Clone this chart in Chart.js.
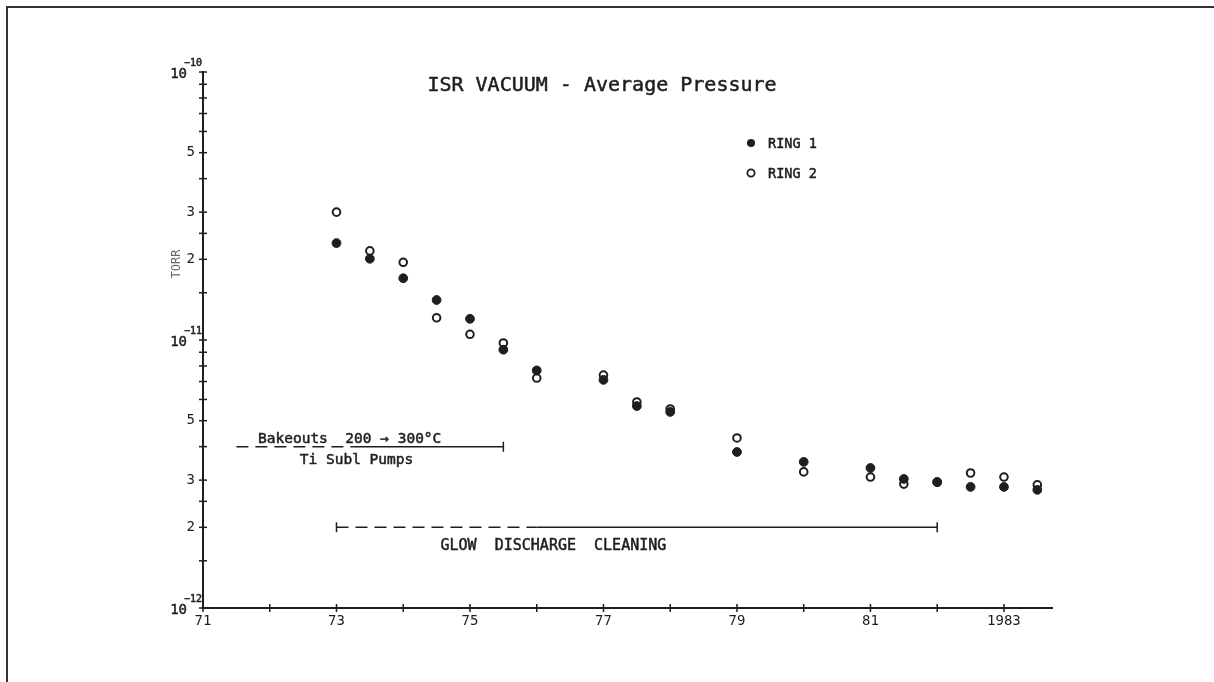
<!DOCTYPE html>
<html>
<head>
<meta charset="utf-8">
<script src="https://cdn.jsdelivr.net/npm/chart.js@4.4.0/dist/chart.umd.min.js"></script>
<style>
    html, body { margin: 0; padding: 0; background: #fff; overflow: hidden; }
    #frame { position: absolute; left: 6px; top: 6px; width: 1230px; height: 700px; border-left: 2px solid #333; border-top: 2px solid #333; }
    #wrap { position: absolute; left: 0; top: 0; width: 1214px; height: 682px; }
</style>
</head>
<body>
<div id="frame"></div>
<div id="wrap"><canvas id="isrChart"></canvas></div>
<script>
// years (19xx) of the measurements
const years = [73, 73.5, 74, 74.5, 75, 75.5, 76, 77, 77.5, 78, 79, 80, 81, 81.5, 82, 82.5, 83, 83.5];
// average pressure, torr
const ring1 = [2.30e-11, 2.01e-11, 1.70e-11, 1.41e-11, 1.20e-11, 9.2e-12, 7.7e-12, 7.1e-12, 5.67e-12, 5.39e-12,
               3.82e-12, 3.51e-12, 3.33e-12, 3.03e-12, 2.95e-12, 2.83e-12, 2.83e-12, 2.76e-12];
const ring2 = [3.0e-11, 2.15e-11, 1.95e-11, 1.21e-11, 1.05e-11, 9.75e-12, 7.21e-12, 7.40e-12, 5.87e-12, 5.53e-12,
               4.31e-12, 3.22e-12, 3.08e-12, 2.90e-12, 2.95e-12, 3.19e-12, 3.08e-12, 2.88e-12];

const xTicks = [71, 72, 73, 74, 75, 76, 77, 78, 79, 80, 81, 82, 83];
const xLabels = ['71', '', '73', '', '75', '', '77', '', '79', '', '81', '', '1983'];

const yTicks = [1e-12, 1.5e-12, 2e-12, 2.5e-12, 3e-12, 4e-12, 5e-12, 6e-12, 7e-12, 8e-12, 9e-12,
                1e-11, 1.5e-11, 2e-11, 2.5e-11, 3e-11, 4e-11, 5e-11, 6e-11, 7e-11, 8e-11, 9e-11, 1e-10];
const yLabels = ['', '', '2', '', '3', '', '5', '', '', '', '',
                 '', '', '2', '', '3', '', '5', '', '', '', '', ''];
const yPowers = [-12, -11, -10];

// annotation bars: [from, dashedUntil, to] in years, level in torr
const bakeoutSpan = [71.5, 73.25, 75.5];
const bakeoutLevel = 4e-12;
const glowSpan = [73, 76, 82];
const glowLevel = 2e-12;

const INK = '#1e1e1e';
const MONO = '"DejaVu Sans Mono", monospace';

// fill + thin stroke, the lettering in the scan is a bit heavier
function inkText(ctx, txt, x, y) {
    ctx.fillText(txt, x, y);
    ctx.lineWidth = 0.5;
    ctx.strokeText(txt, x, y);
}

const decorPlugin = {
    id: 'decor',
    afterDraw(chart) {
        const ctx = chart.ctx;
        const x = chart.scales.x;
        const y = chart.scales.y;
        const area = chart.chartArea;
        ctx.save();
        ctx.strokeStyle = INK;
        ctx.fillStyle = INK;

        // crossing tick marks
        ctx.lineWidth = 1.5;
        xTicks.forEach(v => {
            const px = x.getPixelForValue(v);
            ctx.beginPath();
            ctx.moveTo(px, area.bottom - 4);
            ctx.lineTo(px, area.bottom + 4);
            ctx.stroke();
        });
        yTicks.forEach(v => {
            const py = y.getPixelForValue(v);
            ctx.beginPath();
            ctx.moveTo(area.left - 4, py);
            ctx.lineTo(area.left + 4, py);
            ctx.stroke();
        });

        // powers of ten on the y axis
        yPowers.forEach(p => {
            const py = y.getPixelForValue(Math.pow(10, p));
            ctx.font = '14px ' + MONO;
            ctx.textAlign = 'right';
            ctx.textBaseline = 'middle';
            inkText(ctx, '10', 187, py + 2);
            ctx.font = '10px ' + MONO;
            ctx.textAlign = 'left';
            inkText(ctx, '\u2212' + Math.abs(p), 184, py - 9);
        });

        // title
        ctx.font = '20px ' + MONO;
        ctx.textAlign = 'center';
        ctx.textBaseline = 'middle';
        inkText(ctx, 'ISR VACUUM - Average Pressure', 602, 86);

        // legend
        ctx.beginPath();
        ctx.arc(751, 143, 4, 0, Math.PI * 2);
        ctx.fill();
        ctx.beginPath();
        ctx.lineWidth = 1.8;
        ctx.arc(751, 173, 3.6, 0, Math.PI * 2);
        ctx.stroke();
        ctx.font = '13.5px ' + MONO;
        ctx.textAlign = 'left';
        inkText(ctx, 'RING 1', 768, 144);
        inkText(ctx, 'RING 2', 768, 174);

        // y axis name
        ctx.save();
        ctx.translate(177, 264);
        ctx.rotate(-Math.PI / 2);
        ctx.fillStyle = '#666';
        ctx.font = '12px ' + MONO;
        ctx.textAlign = 'center';
        ctx.fillText('TORR', 0, 0);
        ctx.restore();

        // bakeout bar
        drawBar(ctx, x, y, bakeoutSpan, bakeoutLevel, false);
        ctx.font = '14.5px ' + MONO;
        ctx.textAlign = 'left';
        ctx.textBaseline = 'alphabetic';
        const by = y.getPixelForValue(bakeoutLevel);
        inkText(ctx, 'Bakeouts  200 \u2192 300\u00B0C', 258, by - 4);
        ctx.textAlign = 'center';
        ctx.textBaseline = 'middle';
        inkText(ctx, 'Ti Subl Pumps', x.getPixelForValue(73.3), by + 14);

        // glow discharge bar
        drawBar(ctx, x, y, glowSpan, glowLevel, true);
        const gy = y.getPixelForValue(glowLevel);
        ctx.font = '15px ' + MONO;
        ctx.textAlign = 'center';
        inkText(ctx, 'GLOW  DISCHARGE  CLEANING', x.getPixelForValue(76.25), gy + 19);

        ctx.restore();
    }
};

function drawBar(ctx, x, y, span, level, leftCap) {
    const py = y.getPixelForValue(level);
    const x0 = x.getPixelForValue(span[0]);
    const x1 = x.getPixelForValue(span[1]);
    const x2 = x.getPixelForValue(span[2]);
    ctx.lineWidth = 1.5;
    ctx.setLineDash([12, 7]);
    ctx.beginPath();
    ctx.moveTo(x0, py);
    ctx.lineTo(x1, py);
    ctx.stroke();
    ctx.setLineDash([]);
    ctx.beginPath();
    ctx.moveTo(x1, py);
    ctx.lineTo(x2, py);
    ctx.moveTo(x2, py - 5);
    ctx.lineTo(x2, py + 5);
    if (leftCap) {
        ctx.moveTo(x0, py - 5);
        ctx.lineTo(x0, py + 5);
    }
    ctx.stroke();
}

const ctx = document.getElementById('isrChart').getContext('2d');
new Chart(ctx, {
    type: 'scatter',
    data: {
        datasets: [{
            label: 'RING 1',
            data: years.map((yr, i) => ({ x: yr, y: ring1[i] })),
            backgroundColor: INK,
            borderColor: INK,
            borderWidth: 1,
            pointRadius: 4.4
        }, {
            label: 'RING 2',
            data: years.map((yr, i) => ({ x: yr, y: ring2[i] })),
            backgroundColor: '#fff',
            borderColor: INK,
            borderWidth: 2,
            pointRadius: 3.8
        }]
    },
    options: {
        responsive: true,
        maintainAspectRatio: false,
        animation: false,
        layout: {
            padding: { left: 143, right: 162, top: 72, bottom: 34 }
        },
        plugins: {
            legend: { display: false },
            tooltip: { enabled: false }
        },
        scales: {
            x: {
                type: 'linear',
                min: 71,
                max: 83.72,
                afterBuildTicks: scale => { scale.ticks = xTicks.map(v => ({ value: v })); },
                afterFit: scale => { scale.height = 40; },
                ticks: {
                    autoSkip: false,
                    maxRotation: 0,
                    padding: 5,
                    color: INK,
                    font: { family: MONO, size: 14 },
                    callback: (val) => xLabels[xTicks.indexOf(val)] || ''
                },
                grid: { display: true, drawOnChartArea: false, drawTicks: false },
                border: { display: true, color: INK, width: 2 }
            },
            y: {
                type: 'logarithmic',
                min: 1e-12,
                max: 1e-10,
                afterBuildTicks: scale => { scale.ticks = yTicks.map(v => ({ value: v })); },
                afterFit: scale => { scale.width = 60; },
                ticks: {
                    autoSkip: false,
                    padding: 8,
                    color: INK,
                    font: { family: MONO, size: 14 },
                    callback: function (val, index) { return yLabels[index] || ''; }
                },
                grid: { display: true, drawOnChartArea: false, drawTicks: false },
                border: { display: true, color: INK, width: 2 }
            }
        }
    },
    plugins: [decorPlugin]
});
</script>
</body>
</html>
